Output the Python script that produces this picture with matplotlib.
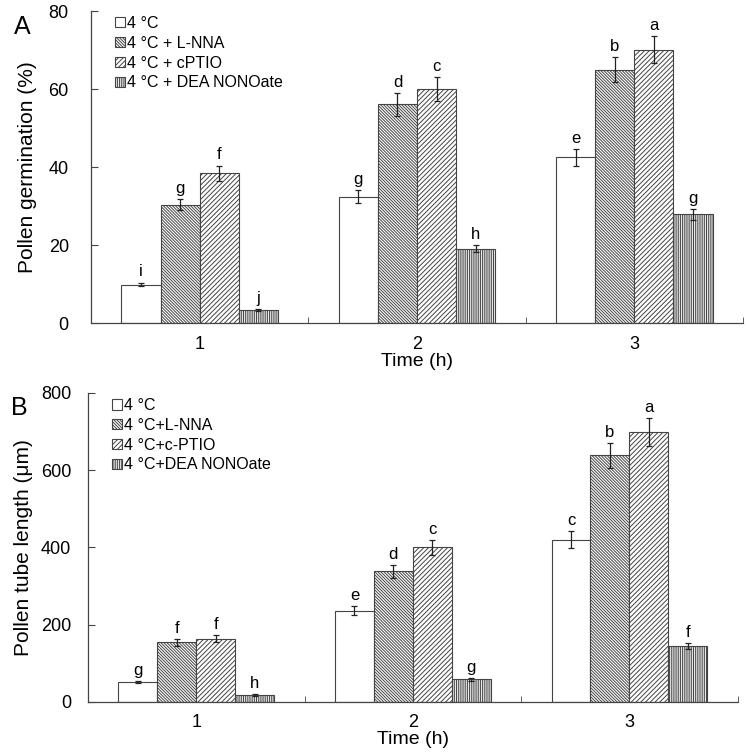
import numpy as np
import matplotlib
matplotlib.use("Agg")
import matplotlib.pyplot as plt

plt.rcParams['font.family'] = ['Liberation Sans', 'DejaVu Sans']
plt.rcParams['hatch.linewidth'] = 0.7

# time points (h)
times = [1, 2, 3]

# panel A: pollen germination (%)
germ_names = ['4 °C', '4 °C + L-NNA', '4 °C + cPTIO', '4 °C + DEA NONOate']
germ_ctrl = [9.9, 32.4, 42.5]
germ_lnna = [30.4, 56.1, 65.0]
germ_cptio = [38.4, 60.0, 70.1]
germ_dea = [3.3, 19.1, 27.9]
germ_ctrl_err = [0.5, 1.7, 2.1]
germ_lnna_err = [1.5, 2.9, 3.2]
germ_cptio_err = [2.0, 3.0, 3.5]
germ_dea_err = [0.2, 0.9, 1.4]
germ_letters = [['i', 'g', 'e'], ['g', 'd', 'b'], ['f', 'c', 'a'], ['j', 'h', 'g']]

# panel B: pollen tube length (um)
tube_names = ['4 °C', '4 °C+L-NNA', '4 °C+c-PTIO', '4 °C+DEA NONOate']
tube_ctrl = [51, 236, 420]
tube_lnna = [155, 338, 639]
tube_cptio = [164, 400, 699]
tube_dea = [18, 59, 144]
tube_ctrl_err = [3, 12, 22]
tube_lnna_err = [9, 17, 32]
tube_cptio_err = [9, 20, 35]
tube_dea_err = [2, 4, 8]
tube_letters = [['g', 'e', 'c'], ['f', 'd', 'b'], ['f', 'c', 'a'], ['h', 'g', 'f']]

hatches = ['', '\\' * 11, '/' * 7, '|' * 9]
edge = '#444444'


def draw_panel(ax, names, series, errs, letters, ymax, ystep, ylabel, tag, offset,
               ypad, lpad):
    x = np.array(times, dtype=float)
    w = 0.18
    for i, (vals, err) in enumerate(zip(series, errs)):
        pos = x + (i - 1.5) * w
        ax.bar(pos, vals, w, color='white', edgecolor=edge, hatch=hatches[i],
               linewidth=0.8, label=names[i], zorder=2)
        ax.errorbar(pos, vals, yerr=err, fmt='none', ecolor='#222222',
                    elinewidth=0.9, capsize=2.5, capthick=0.9, zorder=3)
        for p, v, e, t in zip(pos, vals, err, letters[i]):
            ax.text(p, v + e + offset, t, ha='center', va='bottom', fontsize=12)
    ax.set_xlim(0.5, 3.5)
    ax.set_ylim(0, ymax)
    ax.set_yticks(np.arange(0, ymax + 1, ystep))
    ax.set_xticks(times)
    ax.set_xticks([1.5, 2.5, 3.5], minor=True)
    ax.tick_params(axis='x', which='major', length=0, pad=9, labelsize=13)
    ax.tick_params(axis='x', which='minor', direction='in', length=4, color=edge)
    ax.tick_params(axis='y', direction='in', length=5, color=edge, labelsize=13,
                   pad=ypad)
    for s in ['top', 'right']:
        ax.spines[s].set_visible(False)
    for s in ['left', 'bottom']:
        ax.spines[s].set_color(edge)
        ax.spines[s].set_linewidth(0.9)
    ax.set_xlabel('Time (h)', fontsize=14, labelpad=0)
    ax.set_ylabel(ylabel, fontsize=15, labelpad=lpad)
    ax.legend(loc='upper left', frameon=False, fontsize=11.5, handlelength=0.6,
              handleheight=0.6, handletextpad=0.15, labelspacing=0.3,
              bbox_to_anchor=(0.015, 1.03))
    ax.text(-0.105, 0.95, tag, transform=ax.transAxes, fontsize=18, va='center',
            ha='center')


fig = plt.figure(figsize=(7.49, 7.55), dpi=100)
axA = fig.add_axes([0.1215, 0.572, 0.8705, 0.4134])
axB = fig.add_axes([0.1175, 0.0702, 0.8675, 0.4093])

draw_panel(axA, germ_names, [germ_ctrl, germ_lnna, germ_cptio, germ_dea],
           [germ_ctrl_err, germ_lnna_err, germ_cptio_err, germ_dea_err],
           germ_letters, 80, 20, 'Pollen germination (%)', 'A', 0.8, 16, 8)
draw_panel(axB, tube_names, [tube_ctrl, tube_lnna, tube_cptio, tube_dea],
           [tube_ctrl_err, tube_lnna_err, tube_cptio_err, tube_dea_err],
           tube_letters, 800, 200, 'Pollen tube length (μm)', 'B', 8, 12, 6)

fig.savefig('out.png', dpi=100)
